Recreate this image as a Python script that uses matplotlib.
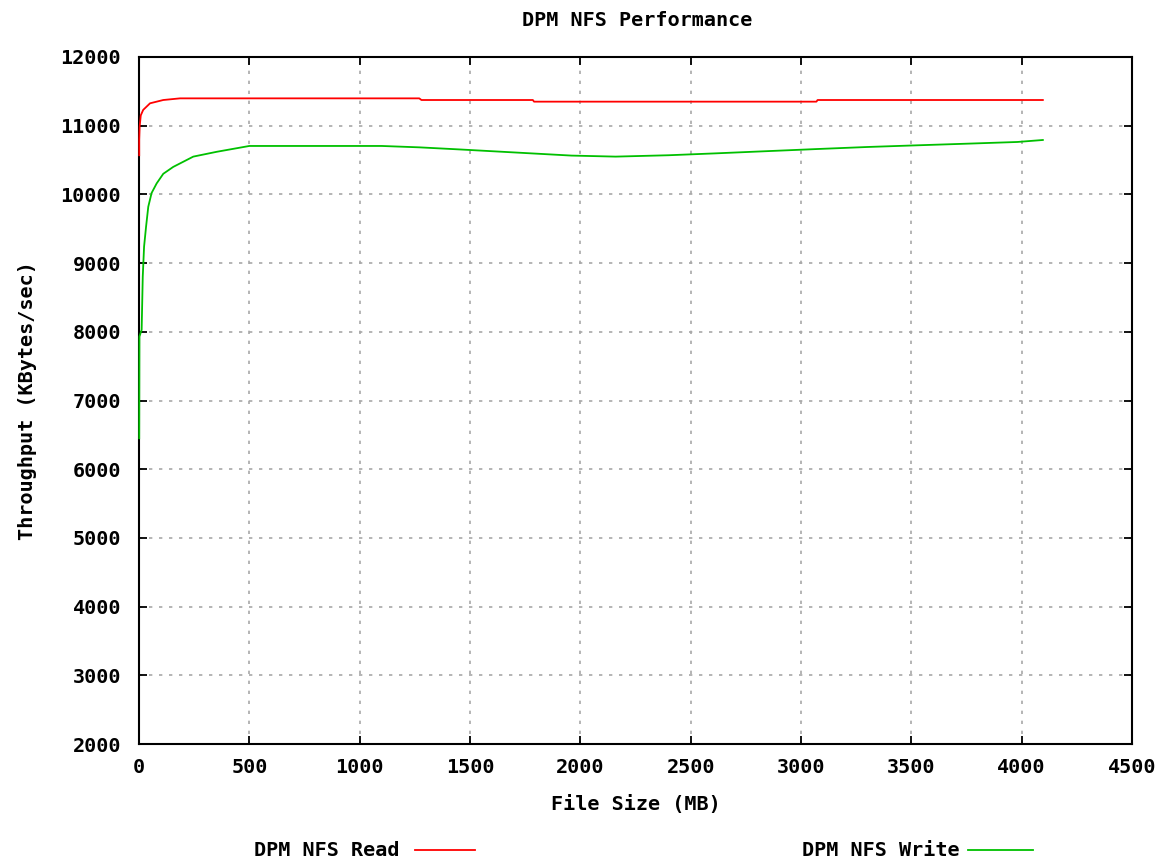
import matplotlib

matplotlib.use("Agg")
import matplotlib.pyplot as plt  # noqa: E402
from matplotlib.lines import Line2D  # noqa: E402

# 数据：文件大小 (MB) 与吞吐 (KBytes/sec)
read_mb = [1, 1, 3, 8, 19, 50, 110, 186, 1270, 1280, 1785, 1790, 3070, 3075, 4096]
read_kbs = [10570, 10800, 10990, 11150, 11230, 11326, 11374, 11398, 11398,
            11374, 11374, 11350, 11350, 11374, 11374]

write_mb = [1, 2, 12, 17, 23, 32, 42, 57, 80, 110, 155, 246, 352, 500, 1100,
            1270, 1450, 1620, 1790, 1960, 2160, 2400, 2610, 2850, 3070, 3300,
            3530, 3750, 3980, 4096]
write_kbs = [6450, 7930, 8030, 8800, 9240, 9530, 9820, 10020, 10160, 10300,
             10400, 10550, 10620, 10705, 10705, 10685, 10655, 10625, 10595,
             10565, 10550, 10570, 10597, 10630, 10660, 10690, 10715, 10738,
             10763, 10792]

x_ticks = [0, 500, 1000, 1500, 2000, 2500, 3000, 3500, 4000, 4500]
y_ticks = [2000, 3000, 4000, 5000, 6000, 7000, 8000, 9000, 10000, 11000, 12000]

W, H = 1164, 861
FONT = dict(family="DejaVu Sans Mono", weight="bold", size=14.5)


def px_x(v):
    return v / W


def px_y(v):
    return 1 - v / H


def main():
    dpi = 100
    fig = plt.figure(figsize=(W / dpi, H / dpi), dpi=dpi)
    ax = fig.add_axes((px_x(139), px_y(744), (1132 - 139) / W, (744 - 57) / H))

    # 线画在边框之上，x=0 附近的竖线才看得见
    ax.plot(read_mb, read_kbs, color="#ff0000", lw=1.3, zorder=4, clip_on=False)
    ax.plot(write_mb, write_kbs, color="#00c000", lw=1.3, zorder=4, clip_on=False)

    ax.set_xlim(0, 4500)
    ax.set_ylim(2000, 12000)
    ax.set_xticks(x_ticks)
    ax.set_yticks(y_ticks)
    ax.set_xticklabels([str(t) for t in x_ticks], fontdict=FONT)
    ax.set_yticklabels([str(t) for t in y_ticks], fontdict=FONT)
    ax.tick_params(direction="in", length=6, width=1.3, top=True, right=True,
                   colors="black")
    ax.tick_params(axis="y", pad=13)
    ax.tick_params(axis="x", pad=10)
    ax.grid(True, color="#a8a8a8", linestyle=(0, (2, 4)), linewidth=1.2)
    for s in ax.spines.values():
        s.set_linewidth(1.5)

    ax.set_xlabel("File Size (MB)", fontdict=FONT, labelpad=13)
    ax.set_ylabel("Throughput (KBytes/sec)", fontdict=FONT, labelpad=17)

    fig.text(px_x(637), px_y(20), "DPM NFS Performance", ha="center",
             va="center", **FONT)

    # 图例（gnuplot 风格：文字在前，线段在后）
    fig.text(px_x(400), px_y(851), "DPM NFS Read", ha="right", va="center", **FONT)
    fig.add_artist(Line2D([px_x(415), px_x(475)], [px_y(850), px_y(850)],
                          color="#ff0000", lw=1.3, transform=fig.transFigure))
    fig.text(px_x(960), px_y(851), "DPM NFS Write", ha="right", va="center", **FONT)
    fig.add_artist(Line2D([px_x(968), px_x(1033)], [px_y(850), px_y(850)],
                          color="#00c000", lw=1.3, transform=fig.transFigure))

    fig.savefig("out.png", dpi=dpi)
    plt.close(fig)


if __name__ == "__main__":
    main()
